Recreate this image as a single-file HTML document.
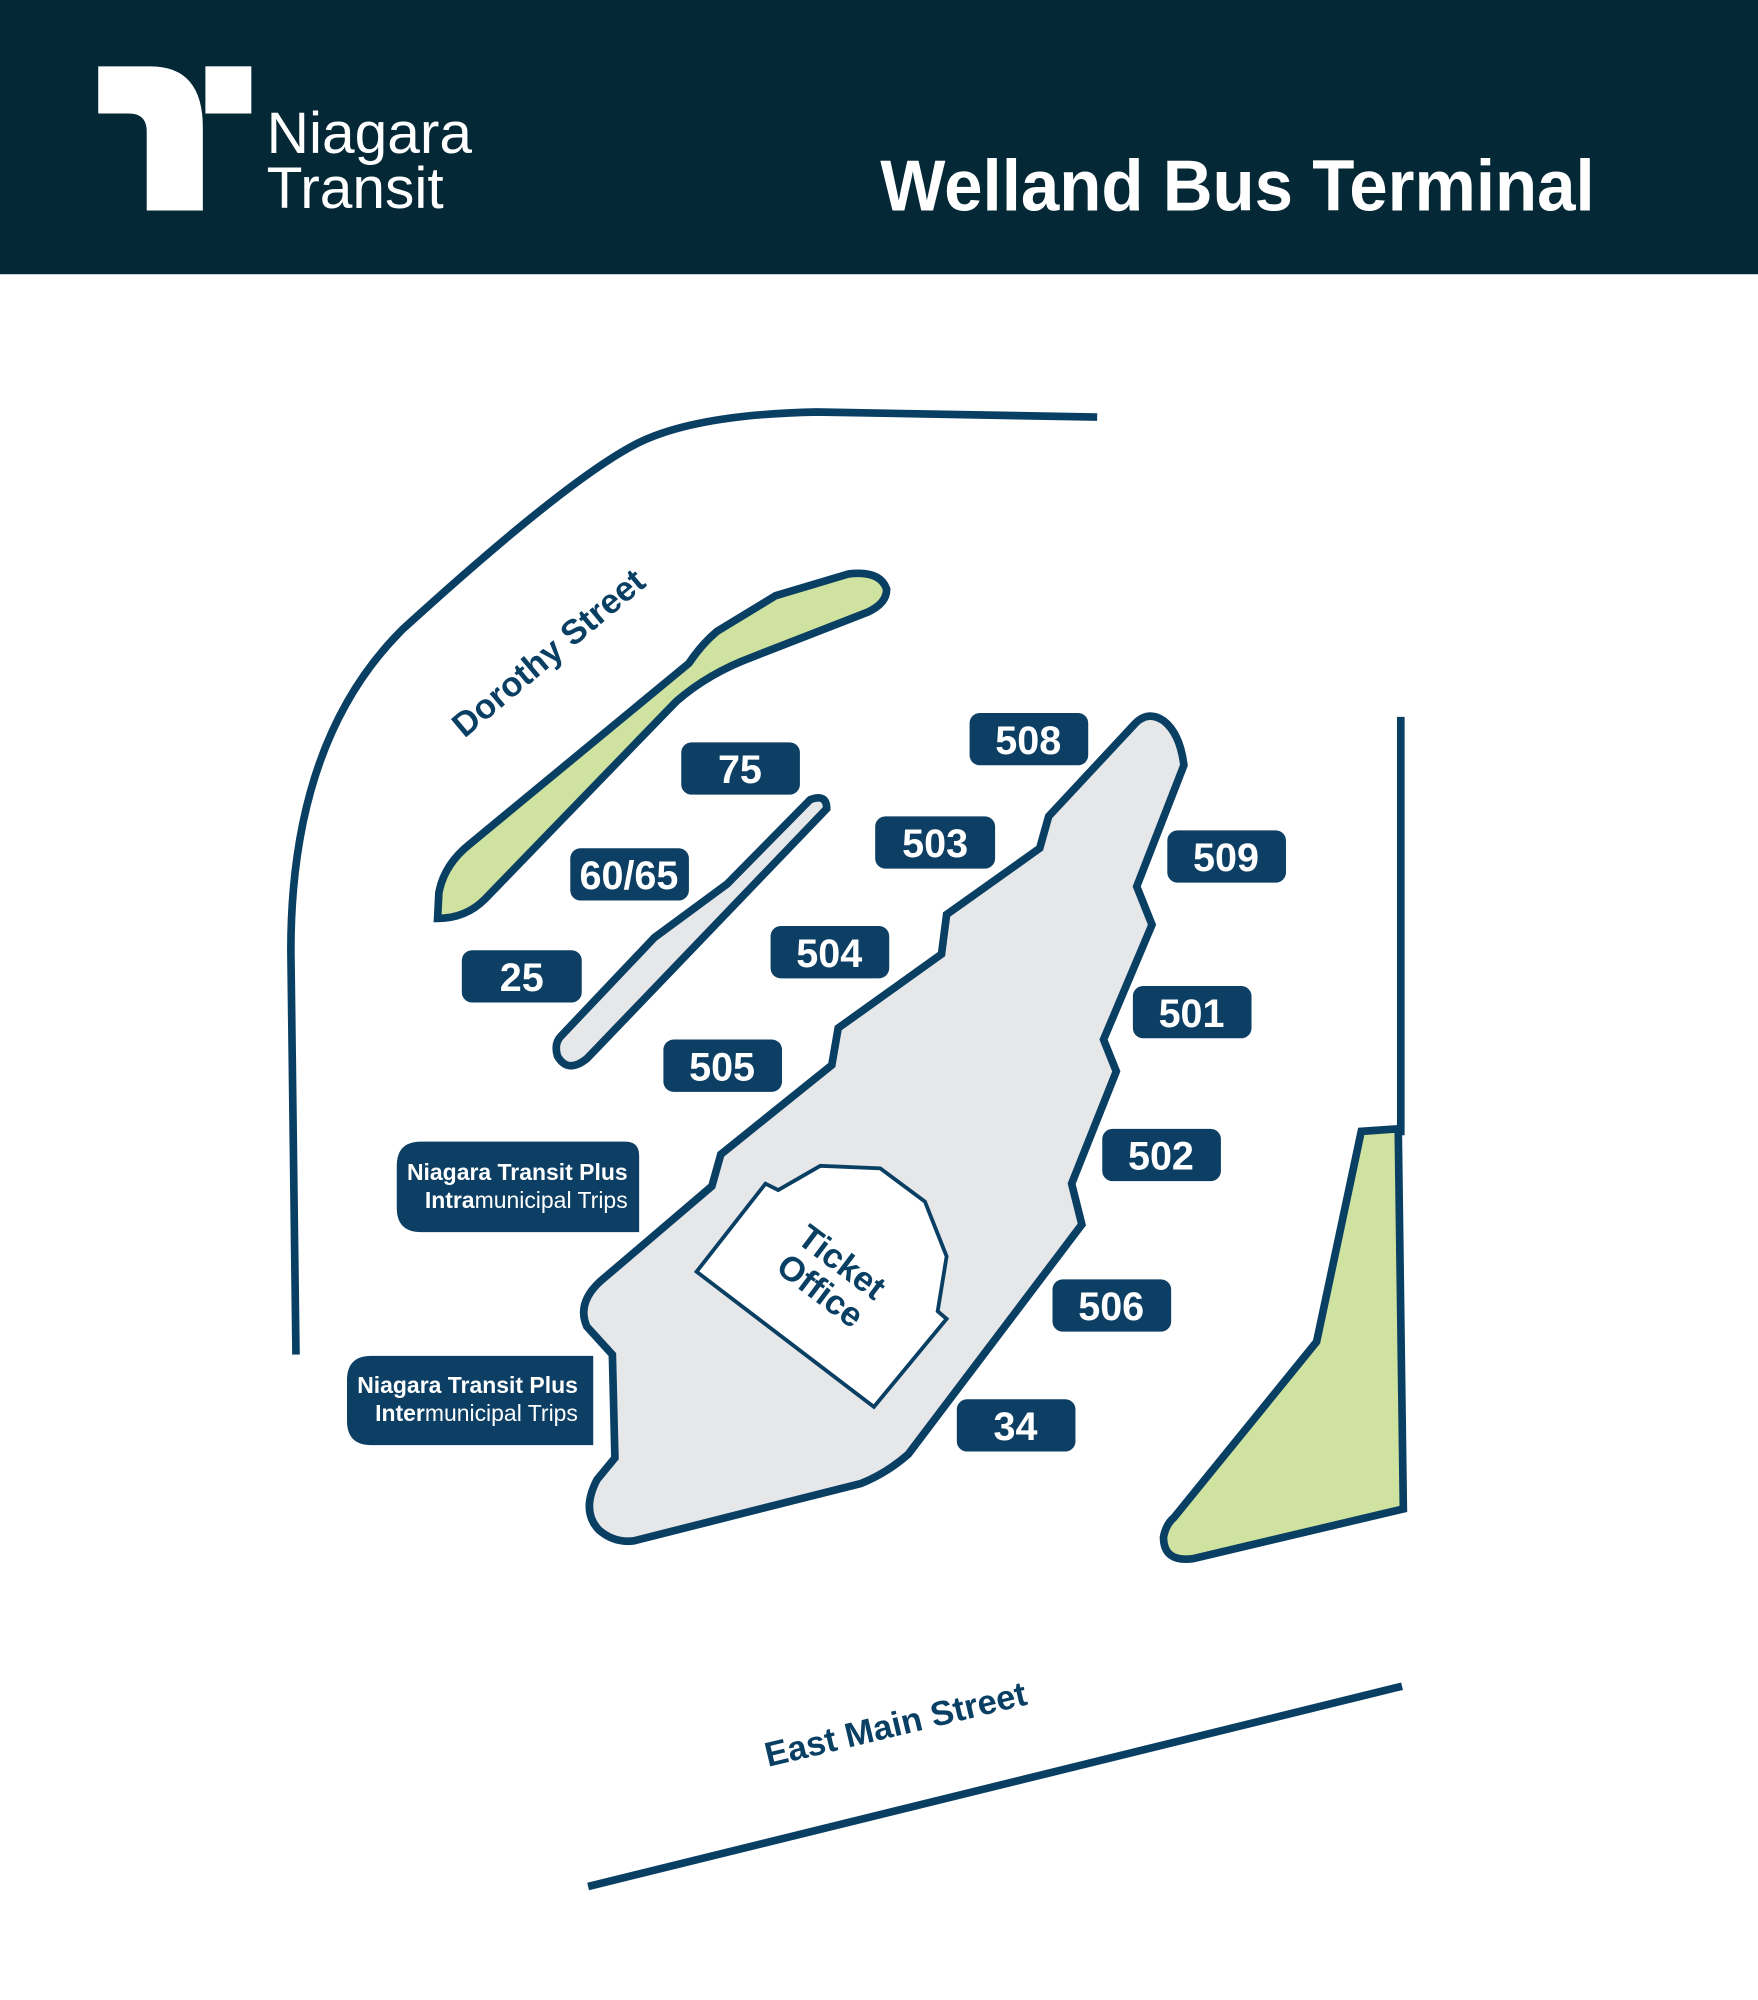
<!DOCTYPE html>
<html><head><meta charset="utf-8"><style>
html,body{margin:0;padding:0;background:#fff;}
svg{display:block;}
.n{font-family:"Liberation Sans Narrow","Liberation Sans",sans-serif;font-weight:bold;fill:#fff;font-size:31px;text-anchor:middle;}
.s{font-family:"Liberation Sans Narrow","Liberation Sans",sans-serif;font-weight:bold;fill:#0a3f64;font-size:27px;text-anchor:middle;}
.p{font-family:"Liberation Sans Narrow","Liberation Sans",sans-serif;fill:#fff;font-size:18px;text-anchor:end;}
</style></head><body>
<svg width="1758" height="2000" viewBox="0 0 1378 1568" preserveAspectRatio="none" xmlns="http://www.w3.org/2000/svg">
<rect x="0" y="0" width="1378" height="215" fill="#052836"/>
<path d="M77,52 H118 Q159,52 159,100 V165 H115 V103 Q115,89 101,89 H77 Z" fill="#fff"/>
<rect x="161" y="52" width="36" height="37" fill="#fff"/>
<text x="209" y="120" font-family="Liberation Sans, sans-serif" font-size="46" fill="#fff">Niagara</text>
<text x="209" y="163" font-family="Liberation Sans, sans-serif" font-size="46" fill="#fff">Transit</text>
<text x="690" y="165" font-family="Liberation Sans, sans-serif" font-weight="bold" font-size="57" fill="#fff" textLength="560" lengthAdjust="spacingAndGlyphs">Welland Bus Terminal</text>

<g fill="none" stroke="#0a3f64" stroke-width="6">
<path d="M232,1062 L228,745 Q228,580 316,493 Q440,380 495,350 Q540,325 640,323 L860,327"/>
<line x1="1098" y1="562" x2="1098" y2="890"/>
<line x1="461" y1="1479" x2="1099" y2="1322"/>
</g>
<path d="M343,720 L344,700 Q348,678 368,662 L540,520 Q550,505 562,495 L608,467 L665,450 Q690,447 695,462 Q695,473 680,480 L590,515 Q555,528 530,550 L380,705 Q365,720 343,720 Z" fill="#cfe29f" stroke="#0a3f64" stroke-width="6"/>
<path d="M1067,887 L1096,885 L1100,1183 L935,1222 Q912,1225 912,1205 Q914,1195 920,1190 L1032,1052 Z" fill="#cfe29f" stroke="#0a3f64" stroke-width="6"/>
<path d="M440,812 L513,735 L570,693 L635,627 Q648,622 648,634 L460,830 Q445,842 437,828 Q434,818 440,812 Z" fill="#e6e7e9" stroke="#0a3f64" stroke-width="6"/>
<path d="M497,1208 L675,1163 Q695,1155 712,1140 L848,960 L840,928 L875,840 L865,815 L903,725 L891,695 L928,600 Q925,575 912,565 Q900,557 890,567 L822,640 L815,665 L742,717 L738,748 L657,806 L652,835 L565,905 L558,930 L470,1005 Q452,1022 460,1040 L480,1062 L482,1143 L468,1160 Q455,1185 470,1200 Q482,1210 497,1208 Z" fill="#e6e7e9" stroke="#0a3f64" stroke-width="6"/>
<path d="M600,928 L610,933 L643,914 L690,916 L725,942 L742,985 L735,1028 L742,1034 L685,1103 L546,997 Z" fill="#fff" stroke="#0a3f64" stroke-width="3"/>
<g transform="translate(652,1000) rotate(37)">
<text class="s" x="0" y="-4">Ticket</text>
<text class="s" x="0" y="24">Office</text>
</g>
<text class="s" transform="translate(430,512) rotate(-40)" x="0" y="9">Dorothy Street</text>
<text class="s" transform="translate(702,1352) rotate(-13.5)" x="0" y="9">East Main Street</text>

<g fill="#0c3f63">
<rect x="760" y="559" width="93" height="41" rx="8"/>
<rect x="534" y="582" width="93" height="41" rx="8"/>
<rect x="686" y="640" width="94" height="41" rx="8"/>
<rect x="915" y="651" width="93" height="41" rx="8"/>
<rect x="447" y="665" width="93" height="41" rx="8"/>
<rect x="604" y="726" width="93" height="41" rx="8"/>
<rect x="362" y="745" width="94" height="41" rx="8"/>
<rect x="888" y="773" width="93" height="41" rx="8"/>
<rect x="520" y="815" width="93" height="41" rx="8"/>
<rect x="864" y="885" width="93" height="41" rx="8"/>
<rect x="825" y="1003" width="93" height="41" rx="8"/>
<rect x="750" y="1097" width="93" height="41" rx="8"/>
<path d="M330,895 H490 Q501,895 501,906 V966 H330 Q311,966 311,947 V914 Q311,895 330,895 Z"/>
<path d="M291,1063 H465 V1133 H291 Q272,1133 272,1114 V1082 Q272,1063 291,1063 Z"/>
</g>
<text class="n" x="806" y="591">508</text>
<text class="n" x="580" y="614">75</text>
<text class="n" x="733" y="672">503</text>
<text class="n" x="961" y="683">509</text>
<text class="n" x="493" y="697">60/65</text>
<text class="n" x="650" y="758">504</text>
<text class="n" x="409" y="777">25</text>
<text class="n" x="934" y="805">501</text>
<text class="n" x="566" y="847">505</text>
<text class="n" x="910" y="917">502</text>
<text class="n" x="871" y="1035">506</text>
<text class="n" x="796" y="1129">34</text>
<text class="p" x="492" y="925" font-weight="bold">Niagara Transit Plus</text>
<text class="p" x="492" y="947"><tspan font-weight="bold">Intra</tspan>municipal Trips</text>
<text class="p" x="453" y="1092" font-weight="bold">Niagara Transit Plus</text>
<text class="p" x="453" y="1114"><tspan font-weight="bold">Inter</tspan>municipal Trips</text>
</svg>
</body></html>
